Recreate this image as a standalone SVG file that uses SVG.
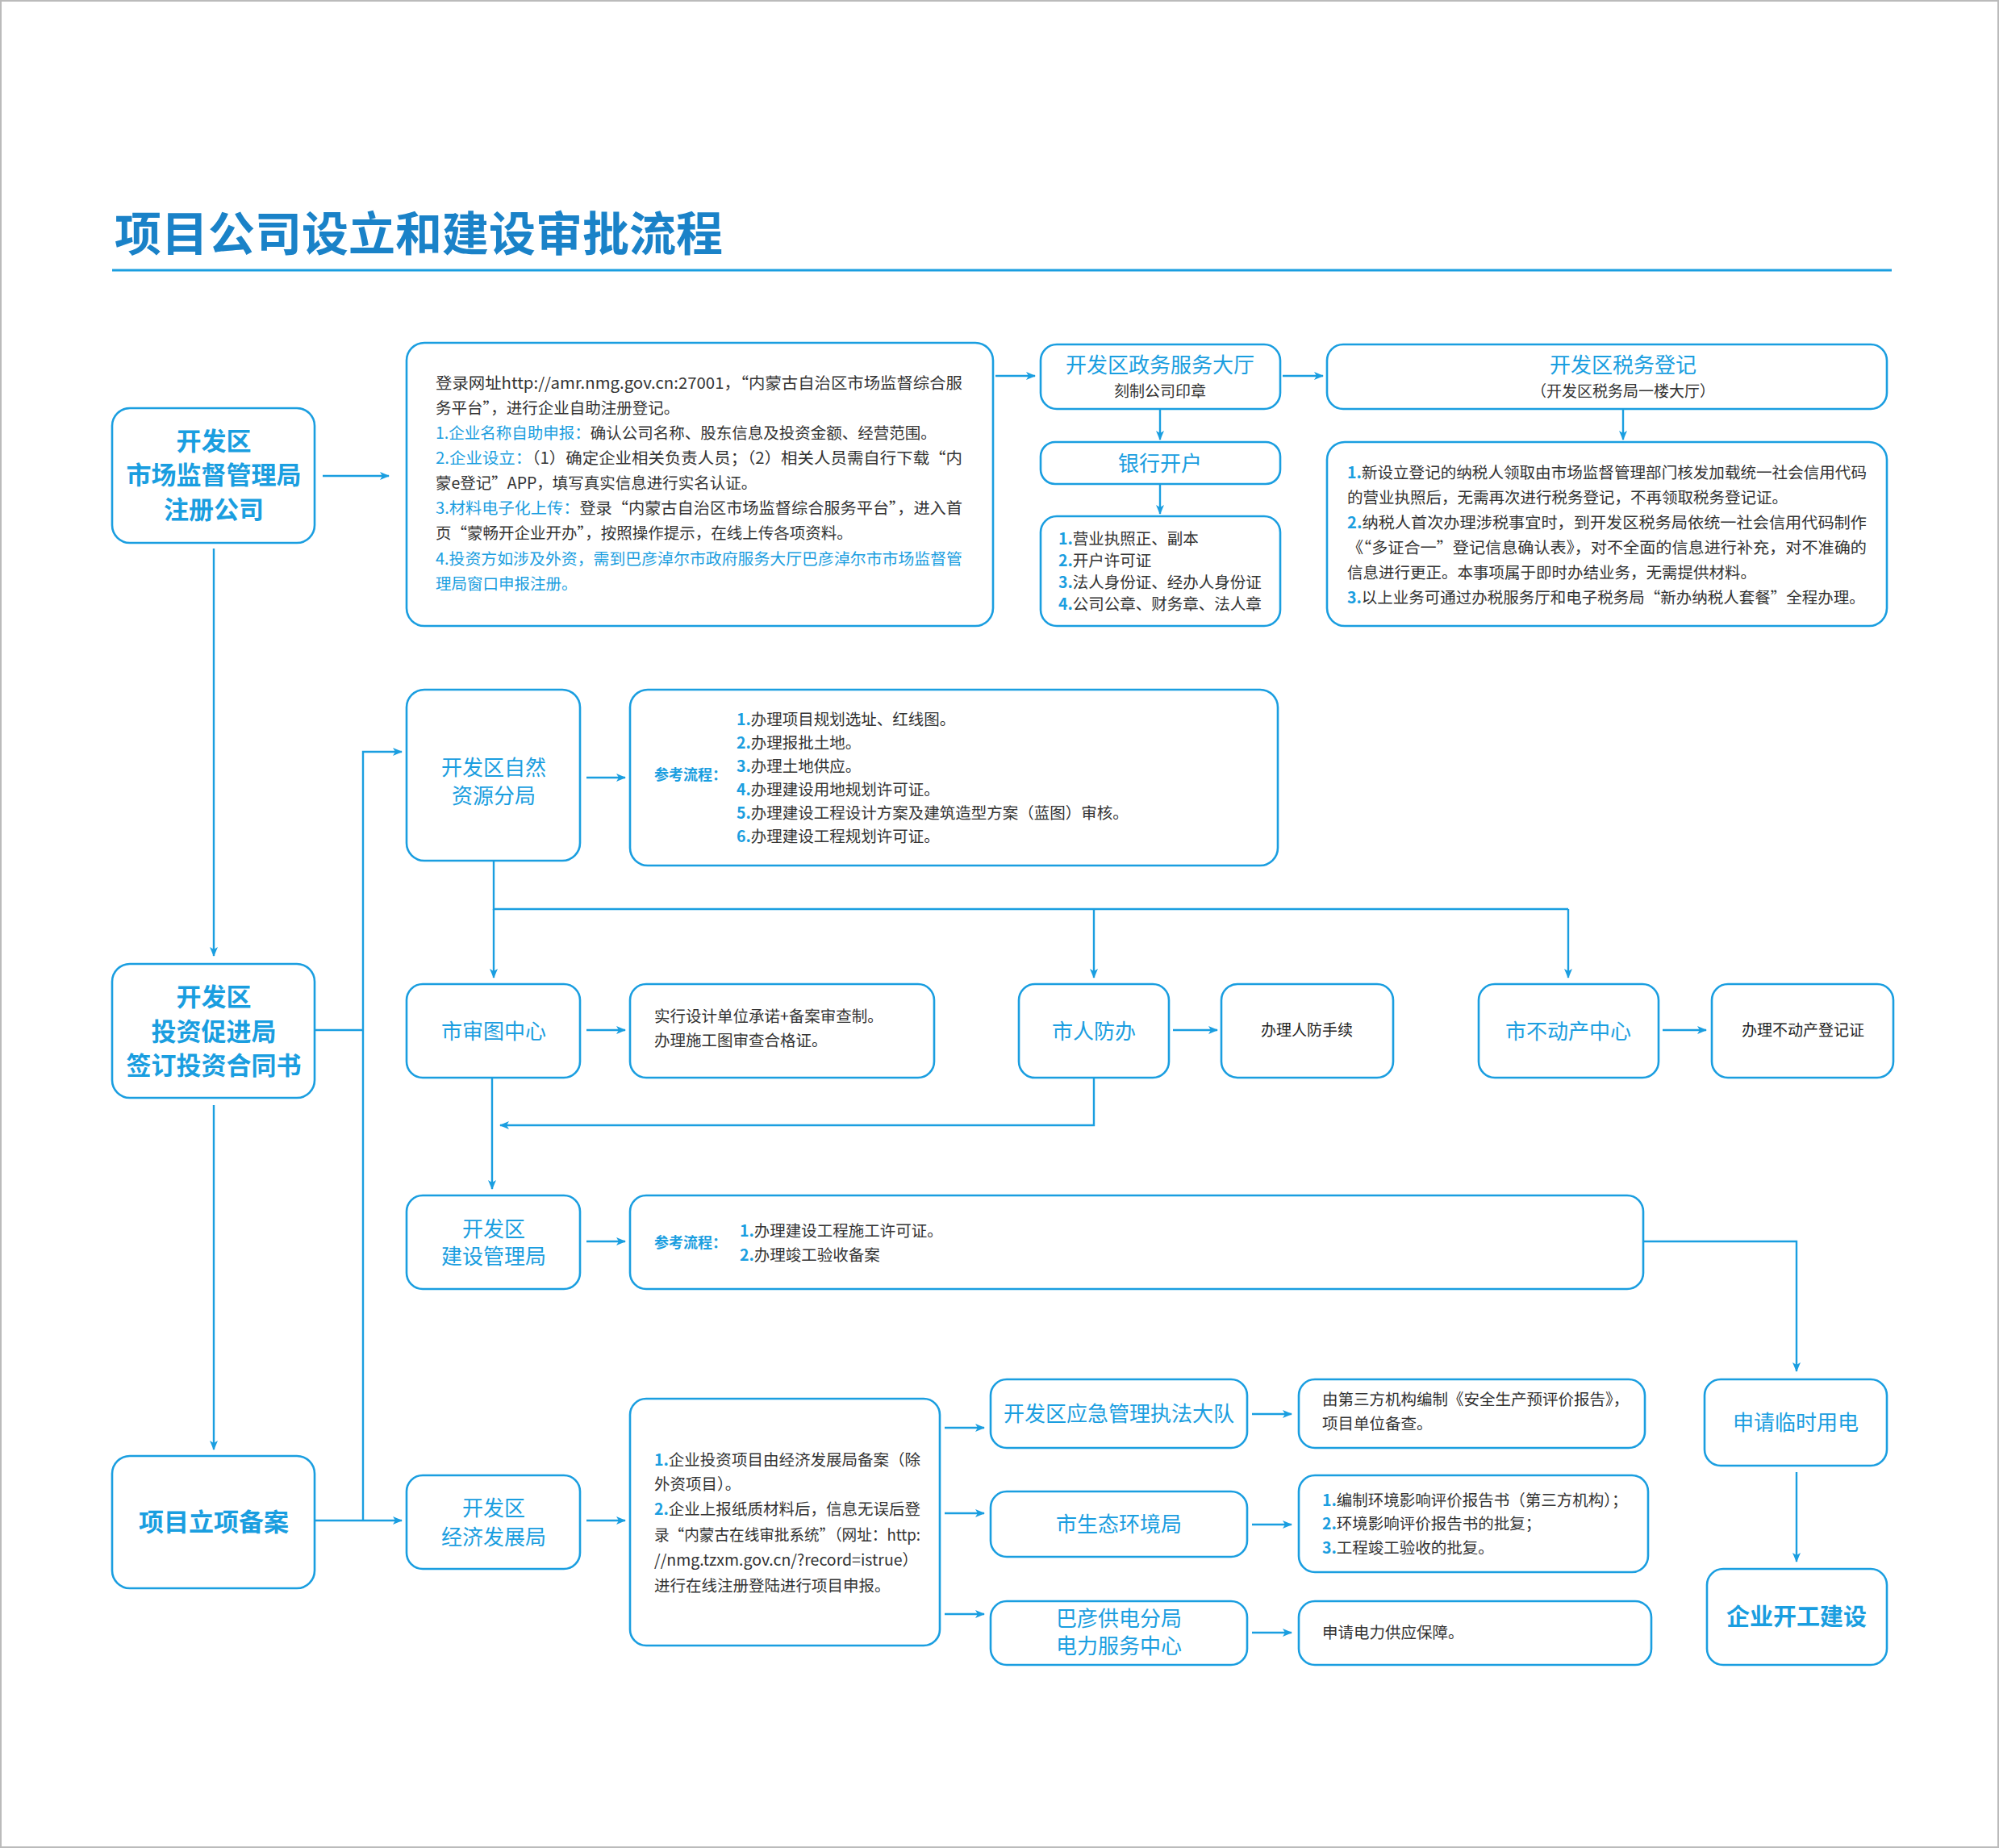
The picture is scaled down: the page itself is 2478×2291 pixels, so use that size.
<svg xmlns="http://www.w3.org/2000/svg" width="2478" height="2291" viewBox="0 0 2478 2291">
<style>
.bx{fill:#fff;stroke:#1a9ee0;stroke-width:2.6}
.ln{fill:none;stroke:#1a9ee0;stroke-width:2.4}
text{font-family:"Noto Sans CJK SC","Noto Sans",sans-serif}
.big{font-size:31px;font-weight:bold;fill:#1a9ee0;text-anchor:middle}
.mid{font-size:26px;fill:#1a9ee0;text-anchor:middle}
.sub{font-size:19px;fill:#333;text-anchor:middle}
.t{font-size:19.5px;fill:#333}
.b{fill:#1a9ee0}
.nb{fill:#1a9ee0;font-weight:bold}
</style>
<defs>
<marker id="ar" viewBox="0 0 12 10" refX="11" refY="5" markerWidth="12" markerHeight="10" markerUnits="userSpaceOnUse" orient="auto">
<path d="M0,0 L12,5 L0,10 L3,5 Z" fill="#1a9ee0"/>
</marker>
</defs>
<rect x="1" y="1" width="2476" height="2289" fill="#fff" stroke="#bbb" stroke-width="2"/>
<text x="142" y="311" style="font-size:58px;font-weight:bold;fill:#1a82c8">项目公司设立和建设审批流程</text>
<line x1="139" y1="335" x2="2345" y2="335" stroke="#1a9ee0" stroke-width="3"/>

<g id="connectors">
<line class="ln" x1="400" y1="590" x2="482" y2="590" marker-end="url(#ar)"/>
<line class="ln" x1="1234" y1="466" x2="1283" y2="466" marker-end="url(#ar)"/>
<line class="ln" x1="1590" y1="466" x2="1640" y2="466" marker-end="url(#ar)"/>
<line class="ln" x1="1438" y1="507" x2="1438" y2="545" marker-end="url(#ar)"/>
<line class="ln" x1="1438" y1="600" x2="1438" y2="637" marker-end="url(#ar)"/>
<line class="ln" x1="2012" y1="507" x2="2012" y2="545" marker-end="url(#ar)"/>
<line class="ln" x1="265" y1="680" x2="265" y2="1185" marker-end="url(#ar)"/>
<line class="ln" x1="265" y1="1370" x2="265" y2="1797" marker-end="url(#ar)"/>
<polyline class="ln" points="390,1277 450,1277"/>
<polyline class="ln" points="450,1885 450,932 498,932" marker-end="url(#ar)"/>
<line class="ln" x1="390" y1="1885" x2="498" y2="1885" marker-end="url(#ar)"/>
<line class="ln" x1="727" y1="964" x2="775" y2="964" marker-end="url(#ar)"/>
<polyline class="ln" points="612,1067 612,1127 1944,1127"/>
<line class="ln" x1="612" y1="1127" x2="612" y2="1212" marker-end="url(#ar)"/>
<line class="ln" x1="1356" y1="1127" x2="1356" y2="1212" marker-end="url(#ar)"/>
<line class="ln" x1="1944" y1="1127" x2="1944" y2="1212" marker-end="url(#ar)"/>
<line class="ln" x1="727" y1="1277" x2="775" y2="1277" marker-end="url(#ar)"/>
<line class="ln" x1="1454" y1="1277" x2="1509" y2="1277" marker-end="url(#ar)"/>
<line class="ln" x1="2061" y1="1277" x2="2115" y2="1277" marker-end="url(#ar)"/>
<polyline class="ln" points="1356,1336 1356,1395 620,1395" marker-end="url(#ar)"/>
<line class="ln" x1="610" y1="1336" x2="610" y2="1474" marker-end="url(#ar)"/>
<line class="ln" x1="727" y1="1539" x2="775" y2="1539" marker-end="url(#ar)"/>
<polyline class="ln" points="2037,1539 2227,1539 2227,1700" marker-end="url(#ar)"/>
<line class="ln" x1="2227" y1="1825" x2="2227" y2="1936" marker-end="url(#ar)"/>
<line class="ln" x1="727" y1="1885" x2="775" y2="1885" marker-end="url(#ar)"/>
<line class="ln" x1="1171" y1="1770" x2="1220" y2="1770" marker-end="url(#ar)"/>
<line class="ln" x1="1171" y1="1876" x2="1220" y2="1876" marker-end="url(#ar)"/>
<line class="ln" x1="1171" y1="2001" x2="1220" y2="2001" marker-end="url(#ar)"/>
<line class="ln" x1="1552" y1="1753" x2="1601" y2="1753" marker-end="url(#ar)"/>
<line class="ln" x1="1552" y1="1890" x2="1601" y2="1890" marker-end="url(#ar)"/>
<line class="ln" x1="1552" y1="2024" x2="1601" y2="2024" marker-end="url(#ar)"/>
</g>

<g id="A"><rect class="bx" x="139" y="506" width="251" height="167" rx="22"/>
<text class="big" x="265" y="558">开发区</text><text class="big" x="265" y="600">市场监督管理局</text><text class="big" x="265" y="643">注册公司</text></g>

<g id="B"><rect class="bx" x="504" y="425" width="727" height="351" rx="22"/>
<text class="t" x="540" y="482" textLength="653" lengthAdjust="spacingAndGlyphs">登录网址http://amr.nmg.gov.cn:27001，“内蒙古自治区市场监督综合服</text>
<text class="t" x="540" y="513">务平台”，进行企业自助注册登记。</text>
<text class="t" x="540" y="544"><tspan class="b">1.企业名称自助申报：</tspan>确认公司名称、股东信息及投资金额、经营范围。</text>
<text class="t" x="540" y="575" textLength="653" lengthAdjust="spacingAndGlyphs"><tspan class="b">2.企业设立：</tspan>（1）确定企业相关负责人员；（2）相关人员需自行下载“内</text>
<text class="t" x="540" y="606">蒙e登记”APP，填写真实信息进行实名认证。</text>
<text class="t" x="540" y="637" textLength="653" lengthAdjust="spacingAndGlyphs"><tspan class="b">3.材料电子化上传：</tspan>登录“内蒙古自治区市场监督综合服务平台”，进入首</text>
<text class="t" x="540" y="668">页“蒙畅开企业开办”，按照操作提示，在线上传各项资料。</text>
<text class="t b" x="540" y="700" textLength="653" lengthAdjust="spacingAndGlyphs">4.投资方如涉及外资，需到巴彦淖尔市政府服务大厅巴彦淖尔市市场监督管</text>
<text class="t b" x="540" y="731">理局窗口申报注册。</text></g>

<g id="C"><rect class="bx" x="1290" y="427" width="297" height="80" rx="20"/>
<text class="mid" x="1438" y="462">开发区政务服务大厅</text><text class="sub" x="1438" y="492">刻制公司印章</text></g>

<g id="D"><rect class="bx" x="1645" y="427" width="694" height="80" rx="20"/>
<text class="mid" x="2012" y="462">开发区税务登记</text><text class="sub" x="2012" y="492">（开发区税务局一楼大厅）</text></g>

<g id="bank"><rect class="bx" x="1290" y="548" width="297" height="52" rx="18"/>
<text class="mid" x="1438" y="584">银行开户</text></g>

<g id="list"><rect class="bx" x="1290" y="640" width="297" height="136" rx="20"/>
<text class="t" x="1312" y="675"><tspan class="nb">1.</tspan>营业执照正、副本</text>
<text class="t" x="1312" y="702"><tspan class="nb">2.</tspan>开户许可证</text>
<text class="t" x="1312" y="729"><tspan class="nb">3.</tspan>法人身份证、经办人身份证</text>
<text class="t" x="1312" y="756"><tspan class="nb">4.</tspan>公司公章、财务章、法人章</text></g>

<g id="taxlist"><rect class="bx" x="1645" y="548" width="694" height="228" rx="22"/>
<text class="t" x="1670" y="593" textLength="644" lengthAdjust="spacingAndGlyphs"><tspan class="nb">1.</tspan>新设立登记的纳税人领取由市场监督管理部门核发加载统一社会信用代码</text>
<text class="t" x="1670" y="624">的营业执照后，无需再次进行税务登记，不再领取税务登记证。</text>
<text class="t" x="1670" y="655" textLength="644" lengthAdjust="spacingAndGlyphs"><tspan class="nb">2.</tspan>纳税人首次办理涉税事宜时，到开发区税务局依统一社会信用代码制作</text>
<text class="t" x="1670" y="686" textLength="644" lengthAdjust="spacingAndGlyphs">《“多证合一”登记信息确认表》，对不全面的信息进行补充，对不准确的</text>
<text class="t" x="1670" y="717">信息进行更正。本事项属于即时办结业务，无需提供材料。</text>
<text class="t" x="1670" y="748"><tspan class="nb">3.</tspan>以上业务可通过办税服务厅和电子税务局“新办纳税人套餐”全程办理。</text></g>

<g id="E"><rect class="bx" x="139" y="1195" width="251" height="166" rx="22"/>
<text class="big" x="265" y="1247">开发区</text><text class="big" x="265" y="1290">投资促进局</text><text class="big" x="265" y="1332">签订投资合同书</text></g>

<g id="F"><rect class="bx" x="139" y="1805" width="251" height="164" rx="22"/>
<text class="big" x="265" y="1898">项目立项备案</text></g>

<g id="G"><rect class="bx" x="504" y="855" width="215" height="212" rx="22"/>
<text class="mid" x="612" y="961">开发区自然</text><text class="mid" x="612" y="996">资源分局</text></g>

<g id="H"><rect class="bx" x="781" y="855" width="803" height="218" rx="22"/>
<text class="t" x="811" y="967" style="font-weight:bold;fill:#1a9ee0;font-size:18px">参考流程：</text>
<text class="t" x="913" y="899"><tspan class="nb">1.</tspan>办理项目规划选址、红线图。</text>
<text class="t" x="913" y="928"><tspan class="nb">2.</tspan>办理报批土地。</text>
<text class="t" x="913" y="957"><tspan class="nb">3.</tspan>办理土地供应。</text>
<text class="t" x="913" y="986"><tspan class="nb">4.</tspan>办理建设用地规划许可证。</text>
<text class="t" x="913" y="1015"><tspan class="nb">5.</tspan>办理建设工程设计方案及建筑造型方案（蓝图）审核。</text>
<text class="t" x="913" y="1044"><tspan class="nb">6.</tspan>办理建设工程规划许可证。</text></g>

<g id="I"><rect class="bx" x="504" y="1220" width="215" height="116" rx="20"/>
<text class="mid" x="612" y="1288">市审图中心</text></g>
<g id="J"><rect class="bx" x="781" y="1220" width="377" height="116" rx="20"/>
<text class="t" x="811" y="1267">实行设计单位承诺+备案审查制。</text>
<text class="t" x="811" y="1297">办理施工图审查合格证。</text></g>
<g id="K"><rect class="bx" x="1263" y="1220" width="186" height="116" rx="20"/>
<text class="mid" x="1356" y="1288">市人防办</text></g>
<g id="L"><rect class="bx" x="1514" y="1220" width="213" height="116" rx="20"/>
<text class="sub" x="1620" y="1284" style="fill:#222">办理人防手续</text></g>
<g id="M"><rect class="bx" x="1833" y="1220" width="223" height="116" rx="20"/>
<text class="mid" x="1944" y="1288">市不动产中心</text></g>
<g id="N"><rect class="bx" x="2122" y="1220" width="225" height="116" rx="20"/>
<text class="sub" x="2235" y="1284" style="fill:#222">办理不动产登记证</text></g>

<g id="O"><rect class="bx" x="504" y="1482" width="215" height="116" rx="20"/>
<text class="mid" x="612" y="1533">开发区</text><text class="mid" x="612" y="1567">建设管理局</text></g>
<g id="P"><rect class="bx" x="781" y="1482" width="1256" height="116" rx="20"/>
<text class="t" x="811" y="1547" style="font-weight:bold;fill:#1a9ee0;font-size:18px">参考流程：</text>
<text class="t" x="917" y="1533"><tspan class="nb">1.</tspan>办理建设工程施工许可证。</text>
<text class="t" x="917" y="1563"><tspan class="nb">2.</tspan>办理竣工验收备案</text></g>

<g id="Q"><rect class="bx" x="2113" y="1710" width="226" height="107" rx="20"/>
<text class="mid" x="2226" y="1773">申请临时用电</text></g>
<g id="R"><rect class="bx" x="2116" y="1945" width="223" height="119" rx="20"/>
<text class="big" x="2227" y="2015" style="font-size:29px">企业开工建设</text></g>

<g id="S"><rect class="bx" x="504" y="1829" width="215" height="116" rx="20"/>
<text class="mid" x="612" y="1879">开发区</text><text class="mid" x="612" y="1915">经济发展局</text></g>
<g id="T"><rect class="bx" x="781" y="1734" width="384" height="306" rx="20"/>
<text class="t" x="811" y="1817" textLength="330" lengthAdjust="spacingAndGlyphs"><tspan class="nb">1.</tspan>企业投资项目由经济发展局备案（除</text>
<text class="t" x="811" y="1847">外资项目）。</text>
<text class="t" x="811" y="1878" textLength="330" lengthAdjust="spacingAndGlyphs"><tspan class="nb">2.</tspan>企业上报纸质材料后，信息无误后登</text>
<text class="t" x="811" y="1910" textLength="330" lengthAdjust="spacingAndGlyphs">录“内蒙古在线审批系统”（网址：http:</text>
<text class="t" x="811" y="1941">//nmg.tzxm.gov.cn/?record=istrue）</text>
<text class="t" x="811" y="1973">进行在线注册登陆进行项目申报。</text></g>

<g id="U"><rect class="bx" x="1228" y="1710" width="318" height="85" rx="20"/>
<text class="mid" x="1387" y="1762">开发区应急管理执法大队</text></g>
<g id="V"><rect class="bx" x="1228" y="1849" width="318" height="81" rx="20"/>
<text class="mid" x="1387" y="1899">市生态环境局</text></g>
<g id="W"><rect class="bx" x="1228" y="1985" width="318" height="79" rx="20"/>
<text class="mid" x="1387" y="2016">巴彦供电分局</text><text class="mid" x="1387" y="2050">电力服务中心</text></g>

<g id="X"><rect class="bx" x="1610" y="1710" width="429" height="85" rx="20"/>
<text class="t" x="1639" y="1742">由第三方机构编制《安全生产预评价报告》，</text>
<text class="t" x="1639" y="1772">项目单位备查。</text></g>
<g id="Y"><rect class="bx" x="1610" y="1829" width="433" height="120" rx="20"/>
<text class="t" x="1639" y="1867"><tspan class="nb">1.</tspan>编制环境影响评价报告书（第三方机构）；</text>
<text class="t" x="1639" y="1896"><tspan class="nb">2.</tspan>环境影响评价报告书的批复；</text>
<text class="t" x="1639" y="1926"><tspan class="nb">3.</tspan>工程竣工验收的批复。</text></g>
<g id="Z"><rect class="bx" x="1610" y="1985" width="437" height="79" rx="20"/>
<text class="t" x="1639" y="2031">申请电力供应保障。</text></g>
</svg>
